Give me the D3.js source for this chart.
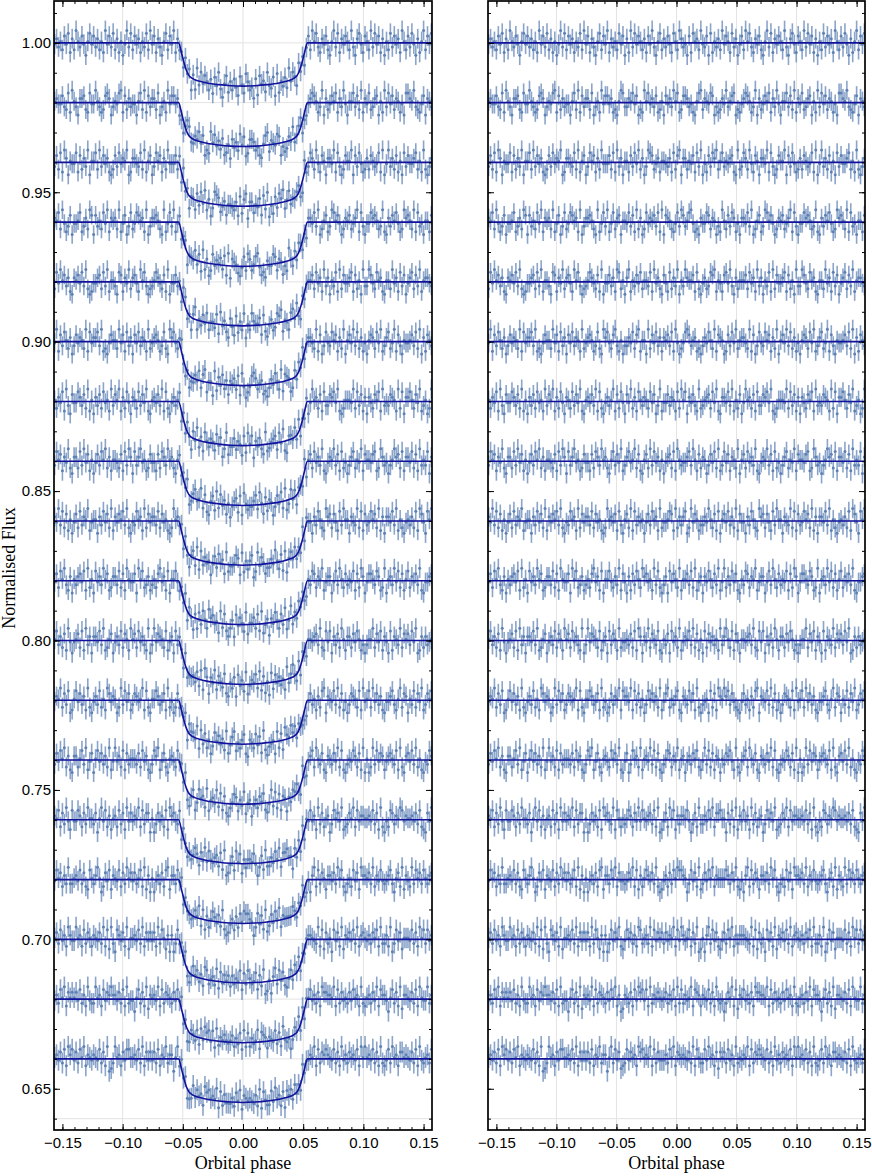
<!DOCTYPE html>
<html>
<head>
<meta charset="utf-8">
<style>
  body { margin: 0; background: #fff; }
  svg { display: block; }
</style>
</head>
<body>
<svg id="mainSvg" width="872" height="1176"></svg>
<script src="https://d3js.org/d3.v7.min.js"></script>
<script>
// each light curve is shifted down by 0.02
const offsets = [1.00, 0.98, 0.96, 0.94, 0.92, 0.90, 0.88, 0.86, 0.84, 0.82, 0.80, 0.78, 0.76, 0.74, 0.72, 0.70, 0.68, 0.66]
// transit depth of each curve
const depths = [0.0145, 0.0147, 0.0147, 0.0148, 0.0147, 0.0147, 0.0148, 0.0148, 0.0148, 0.0147, 0.0147, 0.0147, 0.0148, 0.0147, 0.0147, 0.0146, 0.0146, 0.0146]
// error bar half size per curve
const errs = [0.0033, 0.0032, 0.0032, 0.0031, 0.0031, 0.0032, 0.0032, 0.0033, 0.0032, 0.0032, 0.0033, 0.0032, 0.0032, 0.0033, 0.0033, 0.0034, 0.0034, 0.0035]

// model shape, fraction of the depth vs orbital phase
const modelPhase = [-0.157, -0.0535, -0.051, -0.049, -0.047, -0.045, -0.043, -0.040, -0.035, -0.030, -0.020, -0.010, 0, 0.010, 0.020, 0.030, 0.035, 0.040, 0.043, 0.045, 0.047, 0.049, 0.051, 0.0535, 0.157]
const modelShape = [0, 0, 0.24, 0.46, 0.64, 0.75, 0.805, 0.85, 0.893, 0.925, 0.965, 0.99, 1, 0.99, 0.965, 0.925, 0.893, 0.85, 0.805, 0.75, 0.64, 0.46, 0.24, 0, 0]

// points are evenly spaced over this phase range
const phaseRange = [-0.1565, 0.1565]
const residStep = 0.00092   // one digit step, digit 4.5 = zero

// residuals (data - model) for every curve, one digit per point
const residuals = [
  "4635274816 2953740584 7362519473 8261504938 2746153829 4716305827 4916352847 0619384752 6174930582 6374185296 3407185629 4370815362 9475183604 7295831647 2059381647 5293068417 5293847160 5283746195 2738406159 2748",
  "5644732819 5306672184 4953127860 3548917263 4405829173 6628035194 7746120598 3365847021 9584637125 0746395812 7763410589 2654870312 6493578021 4687513906 2475816394 0558372916 4823670519 3847265140 8865932147 0653",
  "3728196054 4817263905 5829374610 2738465901 6643829157 0385716294 4472819360 5517384926 0398724615 5436182790 6625471839 0417386925 8354671092 3862941750 6649183027 5590738412 6275348190 4936271508 3744682519 2036",
  "6582941370 4458136297 0735284916 5629147038 2487561903 6675209148 3914826705 5483719260 2846573819 0765214839 7358941206 4487265031 9527386140 6648390257 1398574026 5724691830 4486752391 0637584129 6752918340 5517",
  "2849573610 6574839201 4467283915 5308716492 6741958302 3586427190 4473619825 0691537482 5538194620 7418263905 3965571820 4623879154 1784930625 5572846193 6053819274 4681725093 3974285610 5529461837 0468273915 6643",
  "4917385260 3746529184 6683912047 5529471836 0748365192 4675138209 6842793150 3364827915 5092748361 6573819402 4897356120 3648529176 5017384925 6642917038 4385716290 5749382614 0576284913 6824917305 4457382906 1753",
  "5264819307 4486372915 0637284519 3759162840 6528374910 5647391820 4635917284 0749261853 6528470391 4473651829 5806473192 3567284910 6648391527 0495627183 3768491025 5549283716 0642758193 4376519280 6685274913 5029",
  "3857164920 6628394715 0473859261 5542718396 0836945127 4417286395 6205837491 3684592710 5729384615 0467281953 4468395172 6503748291 3847165290 5728463910 4659371824 0368254917 5547812963 4035967281 6648271935 3806",
  "6493827150 4728365914 5506384729 1647583920 4385619274 6638274510 2956471830 5729183645 0473856192 4458719263 6802947513 3649527180 5748362917 4406385219 6727418395 5064392817 3485729160 6648391520 4536281974 0859",
  "4728593160 5367481925 0846395712 6638271954 4709582361 3527946180 5584263917 4061738529 6745193820 3608475291 5573829146 0648527391 4926384710 5387265914 6604839527 3548172960 4775386129 0563948271 5826473910 4467",
  "5836271940 4572819360 6648391257 0463827519 5728463190 3947652814 6083751924 4537281960 6492753810 5370846291 4658392715 0827463519 3695281740 5546739218 4806372951 6627485130 3559274816 4081653927 5738490162 6345",
  "4659273801 5847361920 4638251974 6502938471 3764591820 5586347192 4027365918 6649183725 0385746291 4792536810 6538471920 3450827196 5968374210 4735162890 6548392714 0376528194 5829473610 4468315927 6053827491 3758",
  "3748592610 6625839147 0584736291 4946281735 5537284610 3869147205 6428573910 4703856291 5649382710 3587264915 6046375821 4938271650 5376841920 4682953710 6537492810 3548627190 5029384761 4675381920 6748392510 4386",
  "6582739418 4486273955 3705948261 5628371947 4659283770 5037462819 6743918525 3586274948 5467382901 4729581636 6584037293 3648592778 5507382916 4846193725 6038574912 3759284665 5648371920 4287365984 6556473821 0749",
  "4857263933 5648372185 3695027481 6548273957 4735829160 5046372891 6638592744 3475928162 5864739201 4627385988 6503847291 3748592655 5586374921 4069283751 6647395820 3528471966 5739264843 4683057291 6429385738 5367",
  "5738462964 4956283752 6547392819 3086472915 5648392747 4729385160 6038475921 4857362983 5639284757 3746592849 6458273901 5069384721 4738592636 6654392817 3508472916 5748392675 4637582933 6290384715 5548372958 3846",
  "4638592757 5748362943 3956284769 6647382934 4058372916 5649283765 3748592601 6537284978 4829365754 5736482938 3645928762 6548372943 4037592816 5846372977 6659283745 3748562932 5637492866 4058372916 6547382954 4936",
  "5647382968 4738592654 6548372901 3956274885 5648392747 4738265936 6059384712 3847562978 5659283744 4638592765 6547392853 3849562717 5738462935 4659283768 6548372946 3756482959 5648372932 4839562775 6547382943 5638"
]

const xTicks = [-0.15, -0.10, -0.05, 0.00, 0.05, 0.10, 0.15]
const yTicks = [0.65, 0.70, 0.75, 0.80, 0.85, 0.90, 0.95, 1.00]
const xGrid = [-0.10, -0.05, 0.00, 0.05, 0.10]

const svg = d3.select('#mainSvg')
const plotTop = 1, plotBottom = 1130
const panels = [
  {id: 'lc', x0: 54, x1: 432, resid: false},
  {id: 'res', x0: 488, x1: 865, resid: true}
]

const y = d3.scaleLinear().domain([0.6362, 1.0140]).range([plotBottom, plotTop])
const shape = d3.scaleLinear().domain(modelPhase).range(modelShape)
const fmt = d3.format('.2f')

const barColor = '#5E81B5', modelColor = '#12129c'

// build the rows
const rows = offsets.map((off, k) => {
  const digits = residuals[k].replace(/\s/g, '').split('').map(Number)
  const idx = d3.scaleLinear().domain([0, digits.length - 1]).range(phaseRange)
  const pts = digits.map((d, i) => {
    const ph = idx(i)
    const r = (d - 4.5) * residStep
    return {ph: ph, model: off - depths[k] * shape(ph), r: r}
  })
  return {off: off, depth: depths[k], err: errs[k], pts: pts}
})

const minorX = d3.range(-15, 16).map(d => d / 100)
const minorY = d3.range(64, 102).map(d => d / 100)
const gridY = d3.range(32, 51).map(d => d / 50)

panels.forEach(p => {
  const x = d3.scaleLinear().domain([-0.157, 0.157]).range([p.x0, p.x1])
  const g = svg.append('g')

  svg.append('clipPath').attr('id', 'clip-' + p.id)
    .append('rect').attr('x', p.x0).attr('y', plotTop).attr('width', p.x1 - p.x0).attr('height', plotBottom - plotTop)

  const body = g.append('g').attr('clip-path', `url(#clip-${p.id})`)

  // grid
  body.selectAll('.gx').data(xGrid).enter().append('line').classed('gx', true)
    .attr('x1', d => x(d)).attr('x2', d => x(d)).attr('y1', plotTop).attr('y2', plotBottom)
    .attr('stroke', '#e3e3e3').attr('stroke-width', 1)
  body.selectAll('.gy').data(gridY).enter().append('line').classed('gy', true)
    .attr('x1', p.x0).attr('x2', p.x1).attr('y1', d => y(d)).attr('y2', d => y(d))
    .attr('stroke', '#e3e3e3').attr('stroke-width', 1)

  rows.forEach(row => {
    const val = d => p.resid ? row.off + d.r : d.model + d.r
    const rg = body.append('g')
    rg.selectAll('line').data(row.pts).enter().append('line')
      .attr('x1', d => x(d.ph)).attr('x2', d => x(d.ph))
      .attr('y1', d => y(val(d) - row.err)).attr('y2', d => y(val(d) + row.err))
      .attr('stroke', barColor).attr('stroke-width', 1.6).attr('stroke-opacity', 0.72)
    rg.selectAll('circle').data(row.pts).enter().append('circle')
      .attr('cx', d => x(d.ph)).attr('cy', d => y(val(d))).attr('r', 1.5)
      .attr('fill', barColor)

    const line = d3.line().x(d => x(d[0])).y(d => y(d[1])).curve(d3.curveMonotoneX)
    const mdata = p.resid
      ? [[-0.157, row.off], [0.157, row.off]]
      : modelPhase.map((ph, i) => [ph, row.off - row.depth * modelShape[i]])
    rg.append('path').datum(mdata).attr('d', line)
      .attr('fill', 'none').attr('stroke', modelColor).attr('stroke-width', 1.6)
  })

  // axes, ticks point inward
  const styleAxis = a => {
    a.select('.domain').remove()
    a.selectAll('line').attr('stroke', '#000').attr('stroke-width', 1)
    a.selectAll('text').attr('font-family', '"Liberation Sans", Arial, sans-serif').attr('font-size', '15px').attr('fill', '#000')
  }
  g.append('g').attr('transform', `translate(0,${plotBottom})`)
    .call(d3.axisBottom(x).tickValues(minorX).tickSize(-3).tickFormat('')).call(styleAxis)
  g.append('g').attr('transform', `translate(0,${plotBottom})`)
    .call(d3.axisBottom(x).tickValues(xTicks).tickSize(-6).tickPadding(7).tickFormat(fmt)).call(styleAxis)
  g.append('g').attr('transform', `translate(0,${plotTop})`)
    .call(d3.axisTop(x).tickValues(minorX).tickSize(-3).tickFormat('')).call(styleAxis)
  g.append('g').attr('transform', `translate(0,${plotTop})`)
    .call(d3.axisTop(x).tickValues(xTicks).tickSize(-6).tickFormat('')).call(styleAxis)

  g.append('g').attr('transform', `translate(${p.x0},0)`)
    .call(d3.axisLeft(y).tickValues(minorY).tickSize(-3).tickFormat('')).call(styleAxis)
  g.append('g').attr('transform', `translate(${p.x0},0)`)
    .call(d3.axisLeft(y).tickValues(yTicks).tickSize(-6).tickPadding(3).tickFormat(p.resid ? '' : fmt)).call(styleAxis)
  g.append('g').attr('transform', `translate(${p.x1},0)`)
    .call(d3.axisRight(y).tickValues(minorY).tickSize(-3).tickFormat('')).call(styleAxis)
  g.append('g').attr('transform', `translate(${p.x1},0)`)
    .call(d3.axisRight(y).tickValues(yTicks).tickSize(-6).tickFormat('')).call(styleAxis)

  // frame
  g.append('rect').attr('x', p.x0).attr('y', plotTop).attr('width', p.x1 - p.x0).attr('height', plotBottom - plotTop)
    .attr('fill', 'none').attr('stroke', '#000').attr('stroke-width', 1.7)

  g.append('text').text('Orbital phase')
    .attr('x', (p.x0 + p.x1) / 2).attr('y', 1169).attr('text-anchor', 'middle')
    .attr('font-family', '"Liberation Serif", "Times New Roman", serif').attr('font-size', '18px')
})

svg.append('text').text('Normalised Flux')
  .attr('transform', `translate(15,568) rotate(-90)`).attr('text-anchor', 'middle')
  .attr('font-family', '"Liberation Serif", "Times New Roman", serif').attr('font-size', '18px')
</script>
</body>
</html>
